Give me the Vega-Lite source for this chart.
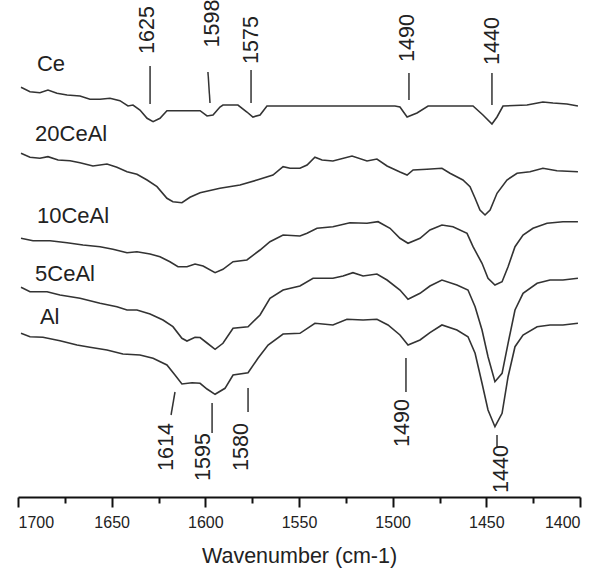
{
  "$schema": "https://vega.github.io/schema/vega-lite/v6.json",
  "width": 562,
  "height": 497,
  "autosize": {"type": "none"},
  "padding": {"left": 18, "top": 0, "right": 20, "bottom": 76},
  "background": "white",
  "config": {"view": {"stroke": null}, "font": "Liberation Sans"},
  "datasets": {
    "curves": [
      {"s":"Ce","w":1698.4,"a":409.7},{"s":"Ce","w":1693.6,"a":405.3},{"s":"Ce","w":1688.3,"a":404.3},{"s":"Ce","w":1684.0,"a":407},{"s":"Ce","w":1679.2,"a":403.7},{"s":"Ce","w":1673.8,"a":402},{"s":"Ce","w":1666.9,"a":401},{"s":"Ce","w":1661.6,"a":397.7},{"s":"Ce","w":1656.2,"a":397.7},{"s":"Ce","w":1650.9,"a":398.7},{"s":"Ce","w":1645.6,"a":396.3},{"s":"Ce","w":1641.3,"a":391},{"s":"Ce","w":1638.6,"a":392},{"s":"Ce","w":1634.9,"a":387},{"s":"Ce","w":1631.1,"a":378.7},{"s":"Ce","w":1627.9,"a":375.3},{"s":"Ce","w":1624.2,"a":378.7},{"s":"Ce","w":1620.5,"a":386.3},{"s":"Ce","w":1602.8,"a":386.3},{"s":"Ce","w":1599.1,"a":381},{"s":"Ce","w":1595.9,"a":382},{"s":"Ce","w":1592.2,"a":390},{"s":"Ce","w":1590.6,"a":392},{"s":"Ce","w":1582.6,"a":392},{"s":"Ce","w":1577.8,"a":385},{"s":"Ce","w":1574.6,"a":380},{"s":"Ce","w":1570.8,"a":382},{"s":"Ce","w":1567.1,"a":391},{"s":"Ce","w":1498.8,"a":391},{"s":"Ce","w":1496.1,"a":390},{"s":"Ce","w":1492.3,"a":380},{"s":"Ce","w":1487.0,"a":384},{"s":"Ce","w":1481.1,"a":391},{"s":"Ce","w":1457.1,"a":391},{"s":"Ce","w":1451.8,"a":382},{"s":"Ce","w":1447.0,"a":373},{"s":"Ce","w":1444.3,"a":380},{"s":"Ce","w":1441.1,"a":391},{"s":"Ce","w":1428.3,"a":392},{"s":"Ce","w":1419.8,"a":395},{"s":"Ce","w":1414.4,"a":394},{"s":"Ce","w":1407.0,"a":393},{"s":"Ce","w":1401.1,"a":391},
      {"s":"20CeAl","w":1698.4,"a":343.7},{"s":"20CeAl","w":1693.6,"a":339.7},{"s":"20CeAl","w":1688.3,"a":338.7},{"s":"20CeAl","w":1684.0,"a":340.3},{"s":"20CeAl","w":1678.6,"a":337},{"s":"20CeAl","w":1672.2,"a":336.3},{"s":"20CeAl","w":1666.9,"a":334.3},{"s":"20CeAl","w":1660.0,"a":331},{"s":"20CeAl","w":1652.5,"a":333},{"s":"20CeAl","w":1647.2,"a":329.7},{"s":"20CeAl","w":1641.8,"a":325.3},{"s":"20CeAl","w":1636.5,"a":322.7},{"s":"20CeAl","w":1631.1,"a":317},{"s":"20CeAl","w":1625.8,"a":310.3},{"s":"20CeAl","w":1620.5,"a":298.7},{"s":"20CeAl","w":1617.3,"a":295.3},{"s":"20CeAl","w":1612.5,"a":294.3},{"s":"20CeAl","w":1608.2,"a":299.7},{"s":"20CeAl","w":1602.8,"a":304.3},{"s":"20CeAl","w":1592.2,"a":308.7},{"s":"20CeAl","w":1581.5,"a":312},{"s":"20CeAl","w":1572.4,"a":317},{"s":"20CeAl","w":1563.9,"a":322},{"s":"20CeAl","w":1558.5,"a":330.3},{"s":"20CeAl","w":1554.8,"a":328.7},{"s":"20CeAl","w":1549.5,"a":328.7},{"s":"20CeAl","w":1545.7,"a":332},{"s":"20CeAl","w":1541.5,"a":339.7},{"s":"20CeAl","w":1537.7,"a":337},{"s":"20CeAl","w":1531.9,"a":336},{"s":"20CeAl","w":1521.7,"a":341},{"s":"20CeAl","w":1513.7,"a":336},{"s":"20CeAl","w":1508.4,"a":338},{"s":"20CeAl","w":1503.0,"a":331},{"s":"20CeAl","w":1496.1,"a":325},{"s":"20CeAl","w":1492.3,"a":322},{"s":"20CeAl","w":1489.1,"a":327},{"s":"20CeAl","w":1481.7,"a":327.7},{"s":"20CeAl","w":1473.7,"a":328.7},{"s":"20CeAl","w":1469.4,"a":323.7},{"s":"20CeAl","w":1462.5,"a":317},{"s":"20CeAl","w":1458.7,"a":310.3},{"s":"20CeAl","w":1456.0,"a":298.7},{"s":"20CeAl","w":1453.4,"a":287},{"s":"20CeAl","w":1450.7,"a":282},{"s":"20CeAl","w":1448.0,"a":287},{"s":"20CeAl","w":1444.3,"a":303.7},{"s":"20CeAl","w":1439.0,"a":317},{"s":"20CeAl","w":1433.6,"a":323.7},{"s":"20CeAl","w":1426.7,"a":325.3},{"s":"20CeAl","w":1419.8,"a":328.7},{"s":"20CeAl","w":1412.3,"a":326.3},{"s":"20CeAl","w":1401.1,"a":325.3},
      {"s":"10CeAl","w":1698.4,"a":258.7},{"s":"10CeAl","w":1692.0,"a":256.3},{"s":"10CeAl","w":1682.9,"a":256.3},{"s":"10CeAl","w":1673.8,"a":254.3},{"s":"10CeAl","w":1665.3,"a":252},{"s":"10CeAl","w":1656.2,"a":250.3},{"s":"10CeAl","w":1649.3,"a":247.7},{"s":"10CeAl","w":1641.8,"a":244.3},{"s":"10CeAl","w":1636.5,"a":245.3},{"s":"10CeAl","w":1629.5,"a":243},{"s":"10CeAl","w":1624.2,"a":240.3},{"s":"10CeAl","w":1618.9,"a":235.3},{"s":"10CeAl","w":1614.6,"a":230.3},{"s":"10CeAl","w":1609.8,"a":230.3},{"s":"10CeAl","w":1605.5,"a":233},{"s":"10CeAl","w":1601.2,"a":231},{"s":"10CeAl","w":1594.8,"a":224.3},{"s":"10CeAl","w":1590.6,"a":227.7},{"s":"10CeAl","w":1585.2,"a":235.3},{"s":"10CeAl","w":1577.8,"a":237},{"s":"10CeAl","w":1570.8,"a":247},{"s":"10CeAl","w":1565.5,"a":255.3},{"s":"10CeAl","w":1558.5,"a":262},{"s":"10CeAl","w":1549.5,"a":261},{"s":"10CeAl","w":1545.7,"a":263.7},{"s":"10CeAl","w":1540.4,"a":268.7},{"s":"10CeAl","w":1531.9,"a":270.3},{"s":"10CeAl","w":1522.8,"a":274.3},{"s":"10CeAl","w":1513.7,"a":273.7},{"s":"10CeAl","w":1507.8,"a":275.3},{"s":"10CeAl","w":1501.4,"a":268.7},{"s":"10CeAl","w":1496.1,"a":258.7},{"s":"10CeAl","w":1491.8,"a":253.7},{"s":"10CeAl","w":1485.4,"a":258.7},{"s":"10CeAl","w":1480.1,"a":267},{"s":"10CeAl","w":1473.7,"a":272},{"s":"10CeAl","w":1467.8,"a":270.3},{"s":"10CeAl","w":1460.3,"a":263.7},{"s":"10CeAl","w":1457.1,"a":250.3},{"s":"10CeAl","w":1452.3,"a":233.7},{"s":"10CeAl","w":1449.1,"a":218.7},{"s":"10CeAl","w":1445.4,"a":212},{"s":"10CeAl","w":1441.6,"a":215.3},{"s":"10CeAl","w":1438.4,"a":230.3},{"s":"10CeAl","w":1434.7,"a":250.3},{"s":"10CeAl","w":1430.4,"a":262},{"s":"10CeAl","w":1425.1,"a":268.7},{"s":"10CeAl","w":1417.6,"a":273.7},{"s":"10CeAl","w":1409.1,"a":275.3},{"s":"10CeAl","w":1401.1,"a":275.3},
      {"s":"5CeAl","w":1698.4,"a":209.7},{"s":"5CeAl","w":1693.6,"a":205.3},{"s":"5CeAl","w":1684.5,"a":205.3},{"s":"5CeAl","w":1677.6,"a":202},{"s":"5CeAl","w":1666.9,"a":198.7},{"s":"5CeAl","w":1656.2,"a":193.7},{"s":"5CeAl","w":1647.2,"a":190.3},{"s":"5CeAl","w":1641.8,"a":187},{"s":"5CeAl","w":1636.5,"a":187},{"s":"5CeAl","w":1629.5,"a":183},{"s":"5CeAl","w":1622.6,"a":177},{"s":"5CeAl","w":1617.3,"a":170.3},{"s":"5CeAl","w":1612.5,"a":158.7},{"s":"5CeAl","w":1609.8,"a":156},{"s":"5CeAl","w":1605.5,"a":159.7},{"s":"5CeAl","w":1602.8,"a":159.5},{"s":"5CeAl","w":1599.1,"a":154},{"s":"5CeAl","w":1594.8,"a":147.7},{"s":"5CeAl","w":1590.6,"a":153.7},{"s":"5CeAl","w":1585.2,"a":168.7},{"s":"5CeAl","w":1577.2,"a":170.3},{"s":"5CeAl","w":1570.8,"a":182},{"s":"5CeAl","w":1565.5,"a":198.7},{"s":"5CeAl","w":1558.5,"a":207},{"s":"5CeAl","w":1549.5,"a":211},{"s":"5CeAl","w":1542.5,"a":218.7},{"s":"5CeAl","w":1531.9,"a":218.7},{"s":"5CeAl","w":1526.5,"a":221},{"s":"5CeAl","w":1521.2,"a":224.3},{"s":"5CeAl","w":1515.8,"a":221},{"s":"5CeAl","w":1508.4,"a":223},{"s":"5CeAl","w":1503.0,"a":217},{"s":"5CeAl","w":1496.1,"a":207},{"s":"5CeAl","w":1491.8,"a":197.7},{"s":"5CeAl","w":1485.4,"a":203.7},{"s":"5CeAl","w":1480.1,"a":211},{"s":"5CeAl","w":1473.7,"a":217},{"s":"5CeAl","w":1465.7,"a":212},{"s":"5CeAl","w":1459.8,"a":207},{"s":"5CeAl","w":1456.0,"a":190.3},{"s":"5CeAl","w":1452.3,"a":167},{"s":"5CeAl","w":1449.1,"a":140.3},{"s":"5CeAl","w":1445.4,"a":115.3},{"s":"5CeAl","w":1441.6,"a":123.7},{"s":"5CeAl","w":1438.4,"a":153.7},{"s":"5CeAl","w":1434.7,"a":187},{"s":"5CeAl","w":1430.4,"a":203.7},{"s":"5CeAl","w":1422.9,"a":213.7},{"s":"5CeAl","w":1416.0,"a":217},{"s":"5CeAl","w":1409.1,"a":217},{"s":"5CeAl","w":1401.1,"a":218.7},
      {"s":"Al","w":1698.4,"a":163.7},{"s":"Al","w":1693.6,"a":160.3},{"s":"Al","w":1686.7,"a":159.7},{"s":"Al","w":1677.6,"a":156.3},{"s":"Al","w":1668.5,"a":152},{"s":"Al","w":1661.6,"a":149.7},{"s":"Al","w":1652.5,"a":147},{"s":"Al","w":1644.0,"a":143},{"s":"Al","w":1634.9,"a":142},{"s":"Al","w":1627.9,"a":138.7},{"s":"Al","w":1620.5,"a":132},{"s":"Al","w":1616.2,"a":122},{"s":"Al","w":1612.5,"a":113},{"s":"Al","w":1607.1,"a":114.3},{"s":"Al","w":1602.8,"a":113.7},{"s":"Al","w":1599.1,"a":108},{"s":"Al","w":1594.8,"a":102.7},{"s":"Al","w":1589.5,"a":108.7},{"s":"Al","w":1585.2,"a":122},{"s":"Al","w":1577.2,"a":124.3},{"s":"Al","w":1571.9,"a":138.7},{"s":"Al","w":1566.5,"a":152},{"s":"Al","w":1558.5,"a":163},{"s":"Al","w":1549.5,"a":163.7},{"s":"Al","w":1541.5,"a":173.7},{"s":"Al","w":1531.9,"a":172},{"s":"Al","w":1524.4,"a":177.7},{"s":"Al","w":1515.8,"a":177},{"s":"Al","w":1508.4,"a":177.7},{"s":"Al","w":1502.5,"a":172},{"s":"Al","w":1496.1,"a":162},{"s":"Al","w":1491.8,"a":152},{"s":"Al","w":1485.4,"a":157},{"s":"Al","w":1480.1,"a":164.3},{"s":"Al","w":1473.7,"a":172},{"s":"Al","w":1465.7,"a":167},{"s":"Al","w":1459.8,"a":160.3},{"s":"Al","w":1456.0,"a":143.7},{"s":"Al","w":1452.3,"a":113.7},{"s":"Al","w":1449.1,"a":87},{"s":"Al","w":1445.4,"a":70.3},{"s":"Al","w":1441.6,"a":83.7},{"s":"Al","w":1438.4,"a":120.3},{"s":"Al","w":1434.7,"a":150.3},{"s":"Al","w":1430.4,"a":162},{"s":"Al","w":1422.9,"a":170.3},{"s":"Al","w":1416.0,"a":172},{"s":"Al","w":1409.1,"a":172},{"s":"Al","w":1401.1,"a":173.7}
    ],
    "marks": [
      {"w1":1629.5,"w2":1629.5,"y1":431,"y2":393},
      {"w1":1598.6,"w2":1597.5,"y1":425,"y2":394},
      {"w1":1575.6,"w2":1575.6,"y1":427,"y2":394},
      {"w1":1491.3,"w2":1491.3,"y1":424,"y2":397},
      {"w1":1447.0,"w2":1447.0,"y1":424,"y2":392},
      {"w1":1616.2,"w2":1618.3,"y1":105,"y2":82},
      {"w1":1596.4,"w2":1596.4,"y1":94,"y2":64},
      {"w1":1577.2,"w2":1577.2,"y1":109,"y2":85},
      {"w1":1492.9,"w2":1492.9,"y1":139,"y2":105},
      {"w1":1444.3,"w2":1444.3,"y1":62,"y2":50}
    ],
    "marklabels": [
      {"t":"1625","w":1630.6,"y":467},
      {"t":"1598","w":1595.9,"y":473.5},
      {"t":"1575","w":1575.1,"y":457},
      {"t":"1490","w":1491.8,"y":459},
      {"t":"1440","w":1446.4,"y":456},
      {"t":"1614","w":1620.5,"y":50},
      {"t":"1595","w":1600.7,"y":40},
      {"t":"1580","w":1580.4,"y":50},
      {"t":"1490","w":1494.5,"y":74},
      {"t":"1440","w":1441.6,"y":28}
    ],
    "names": [
      {"t":"Ce","w":1689.9,"y":433},
      {"t":"20CeAl","w":1690.9,"y":363},
      {"t":"10CeAl","w":1689.9,"y":281},
      {"t":"5CeAl","w":1690.9,"y":223},
      {"t":"Al","w":1688.3,"y":180}
    ]
  },
  "layer": [
    {
      "data": {"name": "curves"},
      "mark": {"type": "line", "color": "#333333", "strokeWidth": 1.6},
      "encoding": {
        "x": {"field": "w", "type": "quantitative",
              "scale": {"domain": [1400, 1700], "reverse": true, "nice": false, "zero": false},
              "axis": {"orient": "bottom", "values": [1700, 1650, 1600, 1550, 1500, 1450, 1400], "format": "d",
                       "grid": false, "domainColor": "#111111", "domainWidth": 2, "tickColor": "#111111", "tickWidth": 2, "tickSize": 10,
                       "labelFontSize": 16, "labelColor": "#222222", "labelPadding": 7, "labelFont": "Liberation Sans",
                       "title": "Wavenumber (cm-1)", "titleFontSize": 21.5, "titleFontWeight": "normal", "titleColor": "#222222", "titlePadding": 15, "titleFont": "Liberation Sans"}},
        "y": {"field": "a", "type": "quantitative", "scale": {"domain": [0, 497], "nice": false, "zero": false}, "axis": null},
        "detail": {"field": "s"}
      }
    },
    {
      "data": {"name": "marks"},
      "mark": {"type": "rule", "color": "#333333", "strokeWidth": 1.5},
      "encoding": {
        "x": {"field": "w1", "type": "quantitative",
              "axis": {"orient": "bottom", "values": [1675, 1625, 1575, 1525, 1475, 1425], "labels": false, "domain": false, "grid": false,
                       "tickColor": "#111111", "tickWidth": 2, "tickSize": 6, "title": null}},
        "x2": {"field": "w2"},
        "y": {"field": "y1", "type": "quantitative"},
        "y2": {"field": "y2"}
      }
    },
    {
      "data": {"name": "marklabels"},
      "mark": {"type": "text", "angle": 270, "align": "center", "baseline": "middle", "fontSize": 21.5, "font": "Liberation Sans", "color": "#222222"},
      "encoding": {
        "x": {"field": "w", "type": "quantitative", "axis": null},
        "y": {"field": "y", "type": "quantitative"},
        "text": {"field": "t"}
      }
    },
    {
      "data": {"name": "names"},
      "mark": {"type": "text", "align": "left", "baseline": "middle", "fontSize": 22, "font": "Liberation Sans", "color": "#222222"},
      "encoding": {
        "x": {"field": "w", "type": "quantitative", "axis": null},
        "y": {"field": "y", "type": "quantitative"},
        "text": {"field": "t"}
      }
    }
  ],
  "resolve": {"axis": {"x": "independent"}}
}
